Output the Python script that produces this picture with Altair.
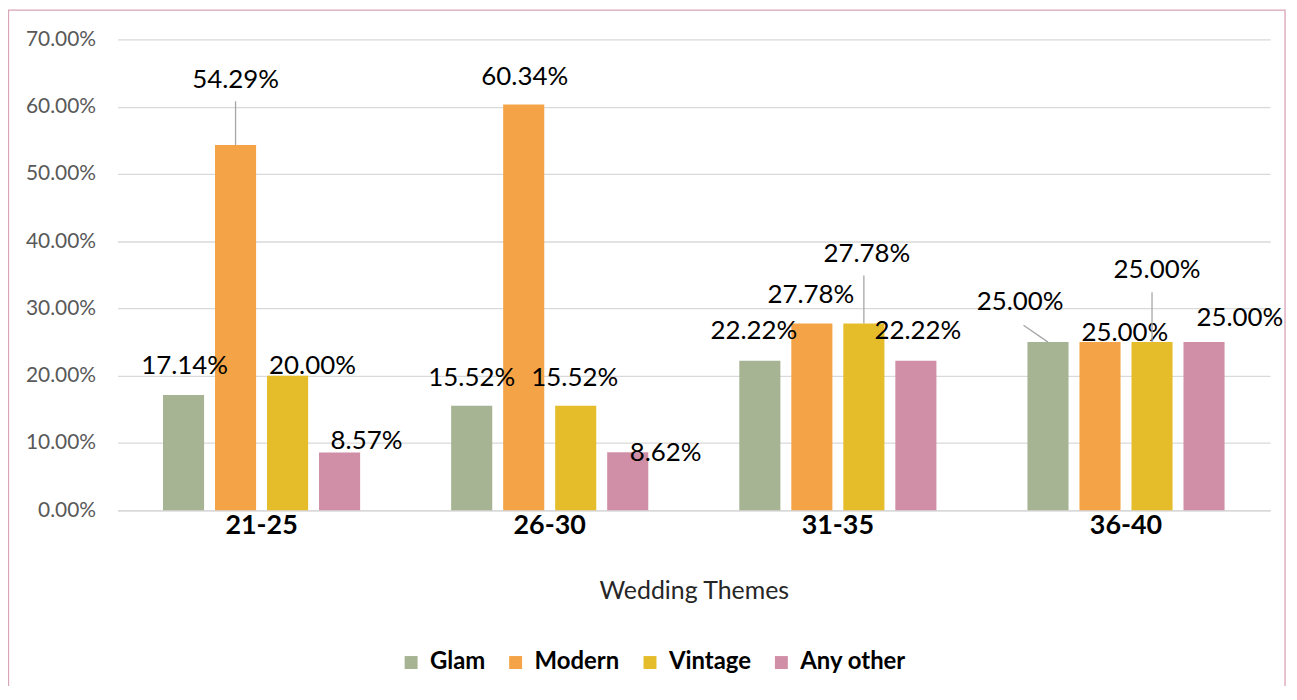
import altair as alt
import pandas as pd

AGES = ["21-25", "26-30", "31-35", "36-40"]
THEMES = ["Glam", "Modern", "Vintage", "Any other"]
GLAM = [17.14, 15.52, 22.22, 25.00]
MODERN = [54.29, 60.34, 27.78, 25.00]
VINTAGE = [20.00, 15.52, 27.78, 25.00]
OTHER = [8.57, 8.62, 22.22, 25.00]
COLORS = ["#A6B493", "#F4A446", "#E5BD2A", "#D08FA6"]
Y_TICKS = [0.0, 0.1, 0.2, 0.3, 0.4, 0.5, 0.6, 0.7]

# label placement (pixel offsets from the top-centre of each bar), per age group, per theme
LABEL_DX = [[1, 0, 25, 27], [0, 1, -1, 38], [-6, -1, 3, 2], [-28, 25, 5, 36]]
LABEL_DY = [[-29, -65, -10, -12], [-28, -28, -28, 1], [-30, -28, -70, -30], [-40, -9, -72, -24]]
# vertical leader lines: (age, theme, length in px)
LEADERS = [("21-25", "Modern", 44), ("31-35", "Vintage", 48), ("36-40", "Vintage", 50)]

series = {"Glam": GLAM, "Modern": MODERN, "Vintage": VINTAGE, "Any other": OTHER}
rows = []
for ti, t in enumerate(THEMES):
    for ai, a in enumerate(AGES):
        rows.append({"age": a, "theme": t, "value": series[t][ai] / 100})
df = pd.DataFrame(rows)

FONT = "Lato"
W, H = 1158, 473

x_enc = alt.X("age:N", sort=AGES, scale=alt.Scale(paddingInner=0, paddingOuter=0),
              axis=alt.Axis(title="Wedding Themes", labelAngle=0, labelFontSize=27,
                            labelFontWeight="bold", labelColor="#000000", labelPadding=2,
                            domainColor="#d9d9d9", domainWidth=1.3, ticks=False,
                            titleFontSize=25, titleFontWeight="normal", titleColor="#262626",
                            titlePadding=41))
xo_enc = alt.XOffset("theme:N", sort=THEMES, scale=alt.Scale(paddingInner=0.21, paddingOuter=0.875))
y_enc = alt.Y("value:Q", scale=alt.Scale(domain=[0, 0.7], nice=False),
              axis=alt.Axis(values=Y_TICKS, format=".2%", title=None, labelFontSize=21,
                            labelColor="#595959", gridColor="#d9d9d9", gridWidth=1.3,
                            domain=False, ticks=False, labelPadding=22))

base = alt.Chart(df)

bars = base.mark_bar().encode(
    x=x_enc, xOffset=xo_enc, y=y_enc,
    color=alt.Color("theme:N", sort=THEMES,
                    scale=alt.Scale(domain=THEMES, range=COLORS),
                    legend=alt.Legend(title=None, orient="none", direction="horizontal",
                                      legendX=283, legendY=614, symbolType="square",
                                      symbolSize=169, symbolStrokeWidth=0,
                                      labelFontSize=24, labelFontWeight="bold",
                                      labelColor="#000000", labelOffset=7, columnPadding=18)),
)

layers = [bars]

for a_i, a in enumerate(AGES):
    for t_i, t in enumerate(THEMES):
        layers.append(
            base.transform_filter((alt.datum.age == a) & (alt.datum.theme == t))
            .mark_text(fontSize=26, baseline="middle", align="center", color="#000000",
                       dx=LABEL_DX[a_i][t_i], dy=LABEL_DY[a_i][t_i])
            .encode(x=alt.X("age:N", sort=AGES), xOffset=alt.XOffset("theme:N", sort=THEMES),
                    y="value:Q", text=alt.Text("value:Q", format=".2%"))
        )

for a, t, L in LEADERS:
    layers.append(
        base.transform_filter((alt.datum.age == a) & (alt.datum.theme == t))
        .mark_rule(color="#a6a6a6", strokeWidth=1.3, y2Offset=-L)
        .encode(x=alt.X("age:N", sort=AGES), xOffset=alt.XOffset("theme:N", sort=THEMES),
                y="value:Q", y2="value:Q")
    )

# diagonal leader for Glam 36-40
layers.append(
    base.transform_filter((alt.datum.age == "36-40") & (alt.datum.theme == "Glam"))
    .mark_rule(color="#a6a6a6", strokeWidth=1.3, xOffset=2, y2Offset=-17, x2Offset=-103)
    .encode(x=alt.X("age:N", sort=AGES), xOffset=alt.XOffset("theme:N", sort=THEMES),
            x2=alt.X2("age:N"), y="value:Q", y2="value:Q")
)

border = alt.Chart(pd.DataFrame({"k": [0]})).mark_rect(
    fillOpacity=0, stroke="#d9a3b8", strokeWidth=1.3
).encode(x=alt.value(-109.5), x2=alt.value(1173), y=alt.value(-29.5), y2=alt.value(720))
layers.append(border)

chart = alt.layer(*layers).properties(
    width=W, height=H,
    autosize=alt.AutoSizeParams(type="none"),
    padding={"left": 110, "top": 30, "right": 19, "bottom": 175},
).configure(font=FONT).configure_view(stroke=None)

chart.save("out.html", embed_options={"renderer": "svg", "actions": False})
